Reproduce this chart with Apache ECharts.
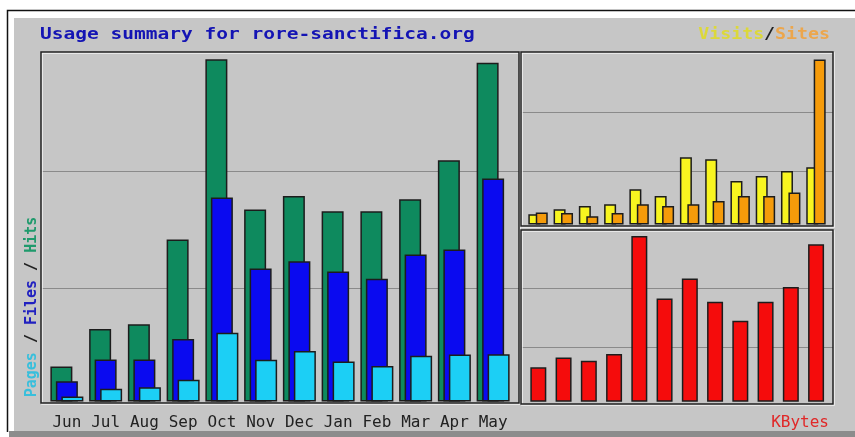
<!DOCTYPE html>
<html>
<head>
<meta charset="utf-8">
<script src="https://cdn.jsdelivr.net/npm/echarts@6/dist/echarts.min.js"></script>
<style>
  html, body { margin: 0; padding: 0; background: #fff; }
  #main { width: 855px; height: 437px; }
</style>
</head>
<body>
<div id="main"></div>
<script>
// monthly usage
let months = ['Jun', 'Jul', 'Aug', 'Sep', 'Oct', 'Nov', 'Dec', 'Jan', 'Feb', 'Mar', 'Apr', 'May'];
let hits = [4010, 8290, 8830, 18530, 39160, 21970, 23530, 21780, 21770, 23150, 27620, 38770];
let files = [2330, 4810, 4820, 7140, 23350, 15210, 16050, 14870, 14060, 16810, 17390, 25520];
let pages = [570, 1460, 1640, 2490, 7870, 4780, 5770, 4590, 4050, 5240, 5390, 5400];
let visits = [206, 306, 372, 406, 706, 572, 1346, 1306, 872, 972, 1072, 1146];
let sites = [240, 232, 166, 232, 406, 372, 406, 472, 572, 572, 640, 3300];
let kbytes = [344000, 444000, 410000, 477000, 1660000, 1034000, 1234000, 1000000, 810000, 1000000, 1150000, 1577000];

let hitsMax = 40000;
let visitsMax = 3430;
let kbytesMax = 1720000;

var chartDom = document.getElementById('main');
var myChart = echarts.init(chartDom, null, { renderer: 'canvas' });

const mono = '"DejaVu Sans Mono", "Liberation Mono", monospace';
const edge = '#1c1c1c';

// panel frame: black on top/left, white on bottom/right
let panel = (x, y, w, h) => [
  { type: 'rect', shape: { x: x + 1, y: y + 1, width: w, height: h }, style: { fill: null, stroke: '#f4f4f4', lineWidth: 1.5 }, z: 1 },
  { type: 'rect', shape: { x: x, y: y, width: w, height: h }, style: { fill: null, stroke: '#202020', lineWidth: 1.5 }, z: 1 }
];

// hidden grid that only draws the two horizontal guide lines of a panel
let guideGrid = (left, top, width, height) => ({ left, top, width, height, show: false });
let guideX = (gi) => ({ type: 'value', gridIndex: gi, show: false });
let guideY = (gi) => ({
  type: 'value', gridIndex: gi, min: 0, max: 3, interval: 1,
  axisLine: { show: false }, axisTick: { show: false }, axisLabel: { show: false },
  splitLine: { show: true, showMinLine: false, showMaxLine: false, lineStyle: { color: '#8a8a8a', width: 1.2 } }
});

let dataX = (gi, showLabels) => ({
  type: 'category', gridIndex: gi, data: months,
  axisLine: { show: false }, axisTick: { show: false },
  axisLabel: { show: showLabels, color: '#222', fontFamily: mono, fontSize: 16, margin: 13, interval: 0 }
});
let dataY = (gi, max) => ({
  type: 'value', gridIndex: gi, min: 0, max: max,
  axisLine: { show: false }, axisTick: { show: false }, axisLabel: { show: false }, splitLine: { show: false }
});

let bar = (name, data, color, gi, width, gap) => ({
  name, type: 'bar', data, xAxisIndex: gi, yAxisIndex: gi,
  barWidth: width, barGap: gap,
  itemStyle: { color: color, borderColor: edge, borderWidth: 1.5 },
  animation: false, silent: true
});

let option = {
  backgroundColor: '#ffffff',
  animation: false,
  grid: [
    guideGrid(41, 54, 478, 351),
    guideGrid(521, 53, 312, 177),
    guideGrid(521, 229, 312, 177),
    { left: 47.5, top: 52, width: 465, height: 349.5, show: false },
    { left: 525.4, top: 53, width: 303.2, height: 171.5, show: false },
    { left: 525.7, top: 230, width: 303, height: 171.7, show: false }
  ],
  xAxis: [guideX(0), guideX(1), guideX(2), dataX(3, true), dataX(4, false), dataX(5, false)],
  yAxis: [guideY(0), guideY(1), guideY(2), dataY(3, hitsMax), dataY(4, visitsMax), dataY(5, kbytesMax)],
  series: [
    bar('Hits', hits, '#0e8a5e', 3, 22, '-75%'),
    bar('Files', files, '#0a0af0', 3, 22, '-75%'),
    bar('Pages', pages, '#1ccff5', 3, 22, '-75%'),
    bar('Visits', visits, '#f8f520', 4, 12, '-38%'),
    bar('Sites', sites, '#f59b0a', 4, 12, '-38%'),
    bar('KBytes', kbytes, '#f50c0c', 5, 16, '0%')
  ],
  graphic: [
    // grey card with black top/left line and dark bottom strip
    { type: 'rect', shape: { x: 14, y: 18, width: 841, height: 414 }, style: { fill: '#c6c6c6' }, z: -10 },
    { type: 'polyline', shape: { points: [[7.5, 432], [7.5, 10.5], [855, 10.5]] }, style: { stroke: '#111', lineWidth: 1.5, fill: null }, z: -9 },
    { type: 'rect', shape: { x: 9, y: 431, width: 846, height: 6 }, style: { fill: '#8c8c8c' }, z: -9 },
    ...panel(41, 52, 478, 351),
    ...panel(521, 52, 312, 174),
    ...panel(521, 230, 312, 174),
    {
      type: 'text', x: 40, y: 35, scaleX: 1.22,
      style: { text: 'Usage summary for rore-sanctifica.org', font: 'bold 16px ' + mono, fill: '#1414b4', verticalAlign: 'middle', align: 'left' }
    },
    {
      type: 'text', x: 830, y: 35, scaleX: 1.14,
      style: {
        text: '{v|Visits}{s|/}{t|Sites}', font: 'bold 16px ' + mono, align: 'right', verticalAlign: 'middle',
        rich: {
          v: { fill: '#dcd83a', font: 'bold 16px ' + mono },
          s: { fill: '#222', font: 'bold 16px ' + mono },
          t: { fill: '#eca64c', font: 'bold 16px ' + mono }
        }
      }
    },
    {
      type: 'text', x: 829, y: 423,
      style: { text: 'KBytes', font: '16px ' + mono, fill: '#e02828', align: 'right', verticalAlign: 'middle' }
    },
    {
      type: 'text', x: 32, y: 307, rotation: Math.PI / 2,
      style: {
        text: '{p|Pages}{s| / }{f|Files}{s| / }{h|Hits}', font: 'bold 15px ' + mono, align: 'center', verticalAlign: 'middle',
        rich: {
          p: { fill: '#38bfdc', font: 'bold 15px ' + mono },
          s: { fill: '#222', font: 'bold 15px ' + mono },
          f: { fill: '#2020c0', font: 'bold 15px ' + mono },
          h: { fill: '#1f9a6c', font: 'bold 15px ' + mono }
        }
      }
    }
  ]
};

myChart.setOption(option);
window.addEventListener('resize', () => {
  myChart.resize();
});
</script>
</body>
</html>
